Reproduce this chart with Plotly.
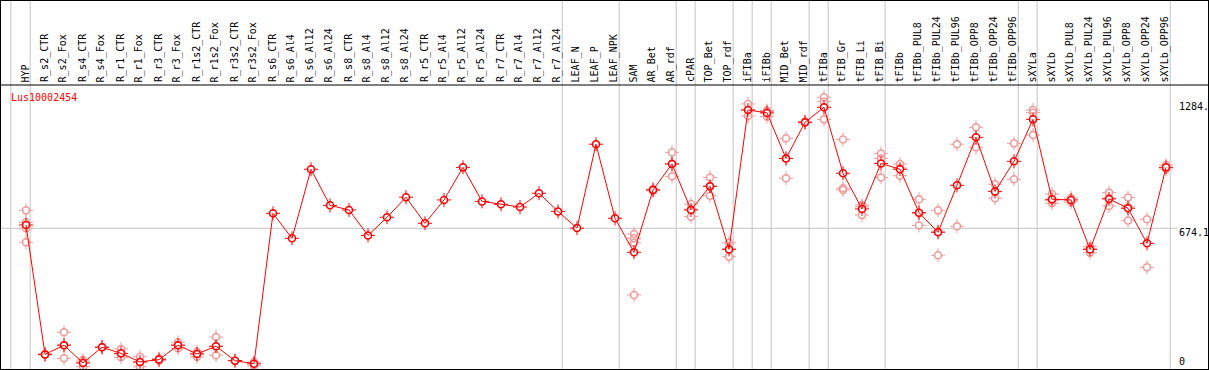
import plotly.graph_objects as go

# ---------------- data ----------------
gene = "Lus10002454"

categories = [
    "HYP", "R_s2_CTR", "R_s2_Fox", "R_s4_CTR", "R_s4_Fox", "R_r1_CTR", "R_r1_Fox",
    "R_r3_CTR", "R_r3_Fox", "R_r1s2_CTR", "R_r1s2_Fox", "R_r3s2_CTR", "R_r3s2_Fox",
    "R_s6_CTR", "R_s6_Al4", "R_s6_Al12", "R_s6_Al24", "R_s8_CTR", "R_s8_Al4",
    "R_s8_Al12", "R_s8_Al24", "R_r5_CTR", "R_r5_Al4", "R_r5_Al12", "R_r5_Al24",
    "R_r7_CTR", "R_r7_Al4", "R_r7_Al12", "R_r7_Al24", "LEAF_N", "LEAF_P", "LEAF_NPK",
    "SAM", "AR_Bet", "AR_rdf", "cPAR", "TOP_Bet", "TOP_rdf", "iFIBa", "iFIBb",
    "MID_Bet", "MID_rdf", "tFIBa", "tFIB_Gr", "tFIB_Li", "tFIB_Bi", "tFIBb",
    "tFIBb_PUL8", "tFIBb_PUL24", "tFIBb_PUL96", "tFIBb_OPP8", "tFIBb_OPP24", "tFIBb_OPP96",
    "sXYLa", "sXYLb", "sXYLb_PUL8", "sXYLb_PUL24", "sXYLb_PUL96", "sXYLb_OPP8",
    "sXYLb_OPP24", "sXYLb_OPP96",
]

means = [
    690, 70, 114, 29, 104, 75, 34, 45, 114, 72, 109, 40, 25,
    746, 626, 957, 784, 762, 640, 727, 823, 698, 810, 966, 803,
    789, 776, 842, 755, 675, 1077, 722,
    559, 858, 982, 762, 875, 573, 1241, 1227, 1009, 1182,
    1254, 938, 767, 985, 957, 749, 655, 880, 1110, 851, 995,
    1196, 813, 810, 573, 815, 770, 602, 966,
]

replicates = [
    [760, 703, 674, 607], [72, 68], [176, 115, 51], [43, 11, 33], [104, 106],
    [96, 56, 73], [59, 11, 32], [50, 40], [128, 99, 115], [83, 59, 74],
    [153, 66, 108], [40], [33, 15],
    [], [], [], [], [], [], [], [], [], [], [], [],
    [], [], [], [], [], [], [],
    [647, 626, 605, 355], [862, 854], [1038, 923, 985], [790, 730, 766],
    [918, 830, 877], [605, 538, 576], [1270, 1212, 1241], [1238, 1209, 1234],
    [1105, 914, 1008], [1184, 1180],
    [1302, 1281, 1196], [1100, 866, 858], [786, 738, 777], [1033, 1009, 918],
    [982, 926, 963], [813, 688, 746], [760, 545, 660], [1077, 684],
    [1158, 1062], [885, 818], [1081, 909],
    [1241, 1228, 1121], [838, 794, 807], [819, 800], [586, 557, 576],
    [845, 781, 819], [822, 712, 776], [717, 487], [977, 958],
]

# index of the last category of each group (separator drawn after it)
group_ends = [-1, 0, 28, 31, 34, 35, 37, 38, 39, 41, 42, 45, 52, 53, 60]

tick_values = [1284, 674.1, 0]
tick_labels = ["1284.", "674.1", "0"]

# ---------------- styling / geometry ----------------
W, H = 1209, 370
PX_PER_CAT = 19.0
X0_PX = 26.0           # pixel of first category
ZERO_PX = 369.0        # pixel row of value 0
PX_PER_UNIT = (369.0 - 228.3) / 674.1
FONT = "DejaVu Sans Mono"
RED = "#ff0000"
PINK = "#f09a9a"
GRID = "#c4c4c4"

xmin = -X0_PX / PX_PER_CAT
xmax = (W - X0_PX) / PX_PER_CAT
ymin = -(H - ZERO_PX) / PX_PER_UNIT
ymax = ZERO_PX / PX_PER_UNIT

def py(px):
    return 1 - px / H

xs = list(range(len(categories)))
rep_x, rep_y = [], []
for i, reps in enumerate(replicates):
    for v in reps:
        rep_x.append(i)
        rep_y.append(v)

fig = go.Figure()

def add_layers(x, y, color, with_line):
    fig.add_trace(go.Scatter(
        x=x, y=y, mode="markers", hoverinfo="skip", cliponaxis=False,
        marker=dict(symbol="cross-thin-open", size=10, color=color,
                    line=dict(color=color, width=1))))
    fig.add_trace(go.Scatter(
        x=x, y=y, mode="markers", hoverinfo="skip", cliponaxis=False,
        marker=dict(symbol="circle", size=5.5, color="white", line=dict(width=0))))
    fig.add_trace(go.Scatter(
        x=x, y=y, mode="lines+markers" if with_line else "markers",
        cliponaxis=False,
        line=dict(color=color, width=1),
        marker=dict(symbol="circle-open", size=7, color=color,
                    line=dict(color=color, width=1.5))))

add_layers(rep_x, rep_y, PINK, False)
add_layers(xs, means, RED, True)

shapes = []
# vertical group separators (through header)
for g in group_ends:
    xb = g + 0.22 if g >= 0 else g + 0.2
    shapes.append(dict(type="line", xref="x", yref="paper", x0=xb, x1=xb,
                       y0=0, y1=1, line=dict(color=GRID, width=1), layer="below"))
# horizontal mid gridline
shapes.append(dict(type="line", xref="paper", yref="y", x0=0, x1=1177 / W,
                   y0=tick_values[1], y1=tick_values[1],
                   line=dict(color=GRID, width=1), layer="below"))
# header separator
shapes.append(dict(type="line", xref="paper", yref="paper", x0=0, x1=1,
                   y0=py(85), y1=py(85), line=dict(color="black", width=1.2)))
# frame
shapes.append(dict(type="rect", xref="paper", yref="paper", x0=0, x1=1, y0=0, y1=1,
                   line=dict(color="black", width=2)))

annotations = []
for i, c in enumerate(categories):
    annotations.append(dict(
        x=i - 0.03, xref="x", y=py(84), yref="paper", text=c, showarrow=False,
        textangle=-90, xanchor="center", yanchor="bottom",
        font=dict(family=FONT, size=10, color="black")))

annotations.append(dict(
    x=9 / W, xref="paper", y=py(97.5), yref="paper", text=gene, showarrow=False,
    xanchor="left", yanchor="middle", font=dict(family=FONT, size=10, color=RED)))

label_shift = [-5.7, -4.4, 7.3]
for v, t, s in zip(tick_values, tick_labels, label_shift):
    annotations.append(dict(
        x=1177 / W, xref="paper", y=v, yref="y", yshift=s, text=t, showarrow=False,
        xanchor="left", yanchor="middle", font=dict(family=FONT, size=10, color="black")))

fig.update_layout(
    width=W, height=H, margin=dict(l=0, r=0, t=0, b=0),
    paper_bgcolor="white", plot_bgcolor="white", showlegend=False,
    hovermode=False,
    xaxis=dict(range=[xmin, xmax], visible=False, showgrid=False, zeroline=False),
    yaxis=dict(range=[ymin, ymax], visible=False, showgrid=False, zeroline=False),
    shapes=shapes, annotations=annotations,
)

fig.write_html(
    "out.html",
    config={"displayModeBar": False, "staticPlot": True},
    post_script="document.body.style.margin='0';document.body.style.overflow='hidden';",
)
